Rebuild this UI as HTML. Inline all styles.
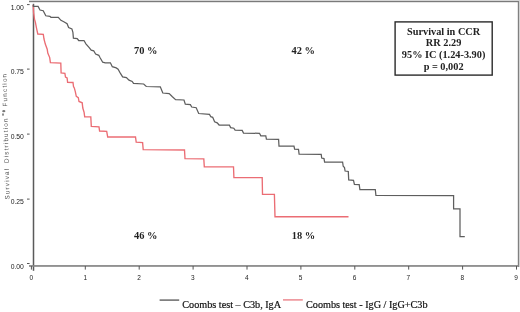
<!DOCTYPE html>
<html><head><meta charset="utf-8"><style>
html,body{margin:0;padding:0;background:#fff;}
svg{display:block;will-change:transform;}
</style></head><body>
<svg width="520" height="312" viewBox="0 0 520 312">
<rect x="0" y="0" width="520" height="312" fill="#fff"/>
<!-- frame -->
<rect x="29" y="0" width="491" height="1" fill="#d6d6d6"/>
<rect x="29" y="1" width="490" height="1.2" fill="#7a7a7a"/>
<rect x="517.8" y="1" width="1.4" height="266" fill="#808080"/>
<rect x="519.2" y="1" width="0.8" height="266" fill="#cfcfcf"/>
<!-- axes -->
<rect x="32.75" y="3.8" width="1.5" height="267" fill="#5a5a5a"/>
<rect x="29" y="265.1" width="490" height="1.7" fill="#868686"/>
<g stroke="#555" stroke-width="1"><line x1="27" y1="4.6" x2="29.6" y2="4.6"/>
<line x1="27" y1="69.1" x2="29.6" y2="69.1"/>
<line x1="27" y1="134.1" x2="29.6" y2="134.1"/>
<line x1="27" y1="199.1" x2="29.6" y2="199.1"/>
<line x1="27" y1="263.5" x2="29.6" y2="263.5"/></g>
<g stroke="#555" stroke-width="1"><line x1="31.4" y1="266" x2="31.4" y2="269.6"/>
<line x1="85.3" y1="266" x2="85.3" y2="269.6"/>
<line x1="139.2" y1="266" x2="139.2" y2="269.6"/>
<line x1="193.1" y1="266" x2="193.1" y2="269.6"/>
<line x1="247.0" y1="266" x2="247.0" y2="269.6"/>
<line x1="300.9" y1="266" x2="300.9" y2="269.6"/>
<line x1="354.8" y1="266" x2="354.8" y2="269.6"/>
<line x1="408.7" y1="266" x2="408.7" y2="269.6"/>
<line x1="462.6" y1="266" x2="462.6" y2="269.6"/>
<line x1="516.5" y1="266" x2="516.5" y2="269.6"/></g>
<g style="font-family:'Liberation Sans',sans-serif;font-size:6.8px" fill="#222"><text x="23.9" y="9.7" text-anchor="end">1.00</text>
<text x="23.9" y="74.2" text-anchor="end">0.75</text>
<text x="23.9" y="139.2" text-anchor="end">0.50</text>
<text x="23.9" y="204.2" text-anchor="end">0.25</text>
<text x="23.9" y="268.6" text-anchor="end">0.00</text></g>
<g style="font-family:'Liberation Sans',sans-serif;font-size:6.5px" fill="#222"><text x="31.3" y="279.6" text-anchor="middle">0</text>
<text x="85.2" y="279.6" text-anchor="middle">1</text>
<text x="139.0" y="279.6" text-anchor="middle">2</text>
<text x="192.9" y="279.6" text-anchor="middle">3</text>
<text x="246.7" y="279.6" text-anchor="middle">4</text>
<text x="300.6" y="279.6" text-anchor="middle">5</text>
<text x="354.5" y="279.6" text-anchor="middle">6</text>
<text x="408.3" y="279.6" text-anchor="middle">7</text>
<text x="462.2" y="279.6" text-anchor="middle">8</text>
<text x="516.0" y="279.6" text-anchor="middle">9</text></g>
<!-- y label -->
<g transform="translate(9.6,199.6) rotate(-91.4)" style="font-family:'Liberation Sans',sans-serif;font-size:6.4px" fill="#505050">
<text x="0" y="0" textLength="30.8" lengthAdjust="spacing">Survival</text>
<text x="36.6" y="0" textLength="44.6" lengthAdjust="spacing">Distribution</text>
<text x="93.2" y="0" textLength="32.6" lengthAdjust="spacing">Function</text>
</g>
<ellipse cx="3.8" cy="111.2" rx="1.6" ry="1.1" fill="#777"/>
<ellipse cx="3.0" cy="114.6" rx="1.0" ry="1.4" fill="#888"/>
<!-- curves -->
<polyline points="33.2,4.9 33.6,12.8 34.5,19.2 35.4,22.4 36.4,27.6 37.1,30.8 37.8,34 43.3,34.3 44,39 45.3,44.1 47.2,49.2 47.8,53.1 49.7,57.6 50.4,62.7 60.8,63.1 61.1,72.8 64.9,73.3 65.5,77 67.1,78 67.6,82.3 73,82.5 73.5,86.5 74.3,87.9 75.3,91.7 76.3,96.4 78.3,97.7 79,101.5 82.2,102.8 82.8,108 84.1,112.4 84.7,116.9 90.8,116.9 91.3,126.3 99,126.8 99.6,131 106.7,131.4 107.7,137 135.5,137 136.2,142.2 142.6,142.6 143.2,149.6 184.5,150 185,158.7 203.8,158.8 204.3,166.8 233.5,166.8 233.9,177.6 262.2,177.6 262.5,194.4 274.4,194.4 275,216.7 348.5,216.7" fill="none" stroke="#eb6d74" stroke-width="1.35" stroke-linejoin="miter"/>
<polyline points="33.3,4.6 33.4,6.4 38.1,6.4 40,10 43.2,10.7 45.8,15.8 49.9,16.4 50.9,17.3 58.3,17.4 60.9,20.3 63.8,21.7 67.1,23.7 68.6,27.5 71.9,28.9 72.9,32.3 73.4,38.1 77.2,38.6 78.7,40.5 84,40.5 85.9,43.8 89.2,47.6 91.2,50.1 93.7,50.8 95.6,54 98.8,55.3 100.1,57.7 102.7,62.2 105.3,62.8 110.4,62.8 112.3,66.7 116.2,67.9 118.1,69.2 120.6,73.7 122.6,76.9 126.4,77.6 129,80.1 132.2,81.4 133.5,83.3 143.7,84 146.3,86.5 160.3,86.8 162.8,93 169.2,93.6 172.4,96.8 175.6,99.6 184,100 185.3,104.2 190.4,104.7 191.7,107 196.2,107.7 198.7,113.5 209.5,114.4 210.8,116.7 212.7,117.3 214.6,121.8 217.2,122.8 219.1,125 229.4,125 230.6,127.6 233.8,128.2 235.1,130.1 242.2,130.4 243.5,133.1 259.5,133.3 260.8,135.9 265.8,135.9 266.4,139.1 278.6,139.4 279,146.2 294,146.2 294.6,149.1 298.5,149.4 299.1,154.2 321.2,154.4 321.7,158 324,158.6 324.6,162 342.6,162 343.2,166.3 344.5,167.6 345.1,171 348.3,171.5 348.7,179.9 353.5,180.3 354.4,184.4 359.2,184.6 359.9,189.5 375.3,189.5 375.9,195.4 453.6,195.6 453.6,208.9 460,208.9 460,236.5 464.8,236.5" fill="none" stroke="#5e5e5e" stroke-width="1.25" stroke-linejoin="miter"/>
<!-- percentages -->
<g style="font-family:'Liberation Serif',serif;font-weight:bold;font-size:10.4px" fill="#222">
<text x="134" y="53.8">70 %</text>
<text x="291.5" y="53.8">42 %</text>
<text x="134" y="238.5">46 %</text>
<text x="291.8" y="238.5">18 %</text>
</g>
<!-- box -->
<rect x="395.1" y="21.9" width="97.1" height="53.2" fill="none" stroke="#2a2a2a" stroke-width="1.4"/>
<g style="font-family:'Liberation Serif',serif;font-weight:bold;font-size:10.3px" fill="#222" text-anchor="middle">
<text x="443.6" y="34.6">Survival in CCR</text>
<text x="443.6" y="46.3">RR 2.29</text>
<text x="443.6" y="58.4">95% IC (1.24-3.90)</text>
<text x="443.6" y="70.2">p = 0,002</text>
</g>
<!-- legend -->
<line x1="159.6" y1="300.1" x2="179.2" y2="300.1" stroke="#6a6a6a" stroke-width="1.5"/>
<line x1="283" y1="299.9" x2="302.8" y2="299.9" stroke="#ec8a90" stroke-width="1.5"/>
<g style="font-family:'Liberation Serif',serif;font-size:10.2px" fill="#111" stroke="#111" stroke-width="0.2">
<text x="182.3" y="308.2">Coombs test – C3b, IgA</text>
<text x="306" y="308.2">Coombs test - IgG / IgG+C3b</text>
</g>
</svg>
</body></html>
